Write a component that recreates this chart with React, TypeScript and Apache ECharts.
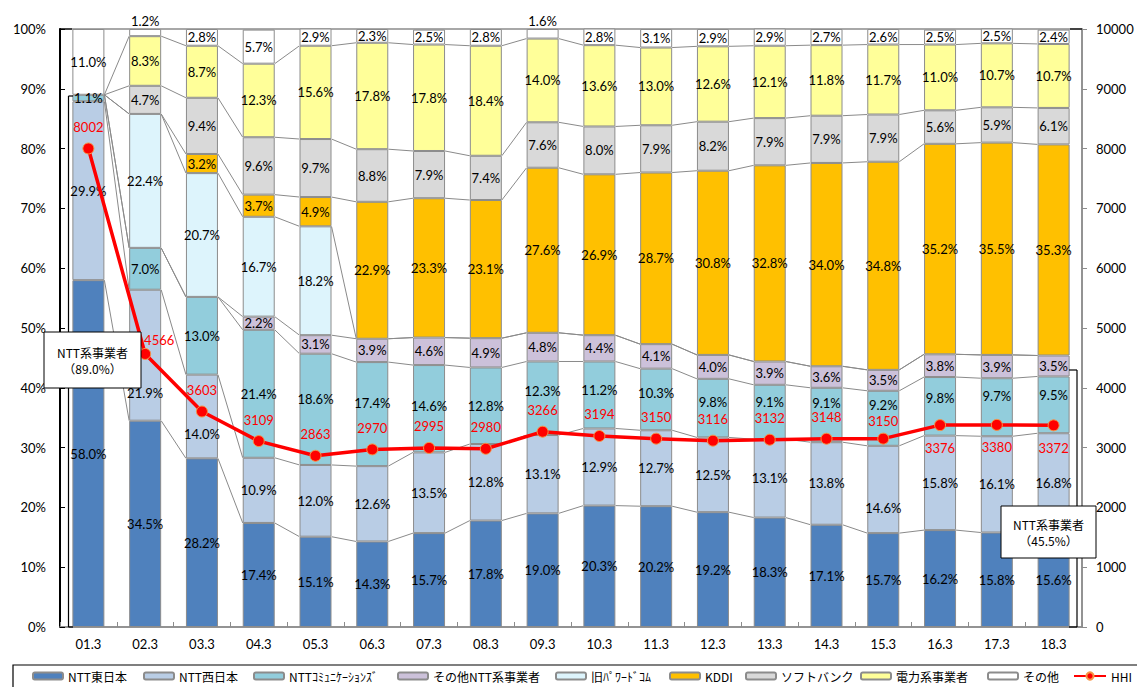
import React, { useEffect, useRef } from "react";
import * as echarts from "echarts";

const CATEGORIES = ["01.3", "02.3", "03.3", "04.3", "05.3", "06.3", "07.3", "08.3", "09.3", "10.3", "11.3", "12.3", "13.3", "14.3", "15.3", "16.3", "17.3", "18.3"];

const NTT_EAST = [58.0, 34.5, 28.2, 17.4, 15.1, 14.3, 15.7, 17.8, 19.0, 20.3, 20.2, 19.2, 18.3, 17.1, 15.7, 16.2, 15.8, 15.6];
const NTT_WEST = [29.9, 21.9, 14.0, 10.9, 12.0, 12.6, 13.5, 12.8, 13.1, 12.9, 12.7, 12.5, 13.1, 13.8, 14.6, 15.8, 16.1, 16.8];
const NTT_COM = [1.1, 7.0, 13.0, 21.4, 18.6, 17.4, 14.6, 12.8, 12.3, 11.2, 10.3, 9.8, 9.1, 9.1, 9.2, 9.8, 9.7, 9.5];
const NTT_OTHER = [0, 0, 0, 2.2, 3.1, 3.9, 4.6, 4.9, 4.8, 4.4, 4.1, 4.0, 3.9, 3.6, 3.5, 3.8, 3.9, 3.5];
const POWEREDCOM = [0, 22.4, 20.7, 16.7, 18.2, 0, 0, 0, 0, 0, 0, 0, 0, 0, 0, 0, 0, 0];
const KDDI = [0, 0, 3.2, 3.7, 4.9, 22.9, 23.3, 23.1, 27.6, 26.9, 28.7, 30.8, 32.8, 34.0, 34.8, 35.2, 35.5, 35.3];
const SOFTBANK = [0, 4.7, 9.4, 9.6, 9.7, 8.8, 7.9, 7.4, 7.6, 8.0, 7.9, 8.2, 7.9, 7.9, 7.9, 5.6, 5.9, 6.1];
const ELECTRIC = [0, 8.3, 8.7, 12.3, 15.6, 17.8, 17.8, 18.4, 14.0, 13.6, 13.0, 12.6, 12.1, 11.8, 11.7, 11.0, 10.7, 10.7];
const OTHERS = [11.0, 1.2, 2.8, 5.7, 2.9, 2.3, 2.5, 2.8, 1.6, 2.8, 3.1, 2.9, 2.9, 2.7, 2.6, 2.5, 2.5, 2.4];
const HHI = [8002, 4566, 3603, 3109, 2863, 2970, 2995, 2980, 3266, 3194, 3150, 3116, 3132, 3148, 3150, 3376, 3380, 3372];

const LEFT_TICKS = [0, 10, 20, 30, 40, 50, 60, 70, 80, 90, 100];
const RIGHT_TICKS = [0, 1000, 2000, 3000, 4000, 5000, 6000, 7000, 8000, 9000, 10000];

const SERIES_NAMES = ["NTT東日本", "NTT西日本", "NTTｺﾐｭﾆｹｰｼｮﾝｽﾞ", "その他NTT系事業者", "旧ﾊﾟﾜｰﾄﾞｺﾑ", "KDDI", "ソフトバンク", "電力系事業者", "その他"];
const SERIES_VALUES = [NTT_EAST, NTT_WEST, NTT_COM, NTT_OTHER, POWEREDCOM, KDDI, SOFTBANK, ELECTRIC, OTHERS];
const COLORS = ["#4F81BD", "#B9CDE5", "#92CDDC", "#CCC1DA", "#DDF4FC", "#FFC000", "#D9D9D9", "#FFFF99", "#FFFFFF"];
const HHI_NAME = "HHI";

// manual vertical nudges (px) of some data labels, as in the reference
const LABEL_DY: number[][] = [
  [],
  [0, 38, 17, 0, 0, 0, 0, 0, 0, 0, 0, 0, 0, 0, 19, 0, 0, 0],
  [0, 0, 0, 0, -10, -11, -3, 0, -7, -5, -6, -6, -10, -12, -13, -8, -11, -10],
];

const LEGEND_LEFT = [32, 143, 253, 397, 555, 669, 745, 860, 987, 1073];

const FONT = "Lato, 'Noto Sans CJK JP', sans-serif";
const JFONT = "'Noto Sans CJK JP', sans-serif";

export default function App() {
  const ref = useRef<HTMLDivElement>(null);

  useEffect(() => {
    if (!ref.current) return;
    const chart = echarts.init(ref.current, null, { renderer: "svg" });

    const cum: number[][] = CATEGORIES.map((_, i) => {
      let s = 0;
      return SERIES_VALUES.map((arr) => (s += arr[i]));
    });
    const HALF = 16;

    const barSeries = SERIES_NAMES.map((name, si) => ({
      name,
      type: "bar",
      stack: "share",
      yAxisIndex: 0,
      barWidth: 32,
      z: 2,
      itemStyle: { color: COLORS[si], borderColor: "#8c8c8c", borderWidth: 1 },
      label: {
        show: true,
        position: "inside",
        color: "#000",
        fontFamily: FONT,
        fontSize: 13,
        formatter: (p: any) => (p.value ? Number(p.value).toFixed(1) + "%" : ""),
      },
      data: SERIES_VALUES[si].map((v, i) => {
        if (!v) return { value: null };
        if (si === SERIES_VALUES.length - 1 && v < 2) {
          return { value: v, label: { position: "top", distance: 2 } };
        }
        const dy = (LABEL_DY[si] && LABEL_DY[si][i]) || 0;
        if (dy) return { value: v, label: { offset: [0, dy] } };
        return { value: v };
      }),
    }));

    const seriesLines = {
      name: "series-lines",
      type: "custom",
      coordinateSystem: "cartesian2d",
      xAxisIndex: 0,
      yAxisIndex: 0,
      silent: true,
      z: 1,
      encode: { x: 0, y: 1 },
      data: CATEGORIES.slice(0, -1).map((_, i) => [i, 0]),
      renderItem: (params: any, api: any) => {
        const i = api.value(0);
        const children = cum[i].slice(0, SERIES_VALUES.length - 1).map((v, k) => {
          const p1 = api.coord([i, v]);
          const p2 = api.coord([i + 1, cum[i + 1][k]]);
          return {
            type: "line",
            shape: { x1: p1[0] + HALF, y1: p1[1], x2: p2[0] - HALF, y2: p2[1] },
            style: { stroke: "#8a8a8a", lineWidth: 1 },
          };
        });
        return { type: "group", children };
      },
    };

    const n = HHI.length;
    const hhiSeries = {
      name: HHI_NAME,
      type: "line",
      yAxisIndex: 1,
      z: 5,
      symbol: "circle",
      symbolSize: 11,
      lineStyle: { color: "#FF0000", width: 3.5 },
      itemStyle: { color: "#FF0000", borderColor: "#F79646", borderWidth: 1 },
      label: {
        show: true,
        position: "top",
        distance: 9,
        color: "#FF0000",
        fontFamily: FONT,
        fontSize: 13,
      },
      data: HHI.map((v, i) => {
        if (i === 1) return { value: v, label: { offset: [14, 8] } };
        if (i === 14) return { value: v, label: { offset: [0, 4] } };
        if (i >= n - 3) return { value: v, label: { position: "bottom", distance: 10 } };
        return { value: v };
      }),
    };

    const legendNames = [...SERIES_NAMES, HHI_NAME];
    const legends = legendNames.map((name, i) => ({
      data: [name],
      left: LEGEND_LEFT[i],
      top: 670,
      padding: 0,
      itemGap: 0,
      itemWidth: name === HHI_NAME ? 32 : 30,
      itemHeight: name === HHI_NAME ? 9 : 7,
      selectedMode: false,
      textStyle: { color: "#000", fontSize: 12, fontFamily: JFONT },
    }));

    const boxText = (cx: number, top: number, w: number, h: number, pct: string) => [
      {
        type: "rect",
        shape: { x: cx - w / 2, y: top, width: w, height: h },
        style: { fill: "#fff", stroke: "#000", lineWidth: 1 },
        z: 10,
      },
      {
        type: "text",
        x: cx,
        y: top + h / 2 - 8,
        style: { text: "NTT系事業者", fill: "#000", font: `12px ${JFONT}`, textAlign: "center", textVerticalAlign: "middle" },
        z: 11,
      },
      {
        type: "text",
        x: cx,
        y: top + h / 2 + 8,
        style: { text: `（${pct}）`, fill: "#000", font: `12px ${JFONT}`, textAlign: "center", textVerticalAlign: "middle" },
        z: 11,
      },
    ];

    const ln = (x1: number, y1: number, x2: number, y2: number, w = 1.2, c = "#000") => ({
      type: "line",
      shape: { x1, y1, x2, y2 },
      style: { stroke: c, lineWidth: w },
      z: 9,
    });

    chart.setOption({
      animation: false,
      backgroundColor: "#fff",
      grid: { left: 60, right: 55, top: 29, bottom: 60, show: true, borderColor: "#8c8c8c", borderWidth: 1.5 },
      legend: legends,
      xAxis: {
        type: "category",
        data: CATEGORIES,
        axisLine: { show: true, lineStyle: { color: "#8c8c8c", width: 1.5 } },
        axisTick: { show: true, inside: true, length: 5, lineStyle: { color: "#8c8c8c" } },
        axisLabel: { color: "#000", fontSize: 13, fontFamily: FONT, margin: 10 },
        splitLine: { show: false },
      },
      yAxis: [
        {
          type: "value",
          position: "left",
          min: LEFT_TICKS[0],
          max: LEFT_TICKS[LEFT_TICKS.length - 1],
          interval: LEFT_TICKS[1] - LEFT_TICKS[0],
          axisLine: { show: true, lineStyle: { color: "#000", width: 2 } },
          axisTick: { show: true, inside: true, length: 5, lineStyle: { color: "#000" } },
          axisLabel: { color: "#000", fontSize: 13, fontFamily: FONT, margin: 14, formatter: "{value}%" },
          splitLine: { show: false },
        },
        {
          type: "value",
          position: "right",
          min: RIGHT_TICKS[0],
          max: RIGHT_TICKS[RIGHT_TICKS.length - 1],
          interval: RIGHT_TICKS[1] - RIGHT_TICKS[0],
          axisLine: { show: true, lineStyle: { color: "#8c8c8c", width: 1.5 } },
          axisTick: { show: true, inside: false, length: 5, lineStyle: { color: "#8c8c8c" } },
          axisLabel: { color: "#000", fontSize: 13, fontFamily: FONT, margin: 14, formatter: (v: number) => String(v) },
          splitLine: { show: false },
        },
      ],
      graphic: [
        {
          type: "rect",
          shape: { x: 13, y: 665, width: 1140, height: 40 },
          style: { fill: "#fff", stroke: "#000", lineWidth: 1.2 },
          z: -1,
        },
        ln(60, 29, 72, 29),
        ln(1070, 29, 1082, 29),
        ln(68.5, 96, 68.5, 627),
        ln(68.5, 96, 73, 96),
        ln(68.5, 627, 73, 627),
        ln(1077, 370, 1077, 627),
        ln(1069, 370, 1077, 370),
        ln(1069, 627, 1077, 627),
        ...boxText(92.5, 332, 97, 56, "89.0%"),
        ...boxText(1048.5, 506, 95, 52, "45.5%"),
      ],
      series: [seriesLines, ...barSeries, hhiSeries],
    });

    return () => chart.dispose();
  }, []);

  return <div ref={ref} style={{ position: "absolute", left: 0, top: 0, width: 1137, height: 687 }} />;
}
